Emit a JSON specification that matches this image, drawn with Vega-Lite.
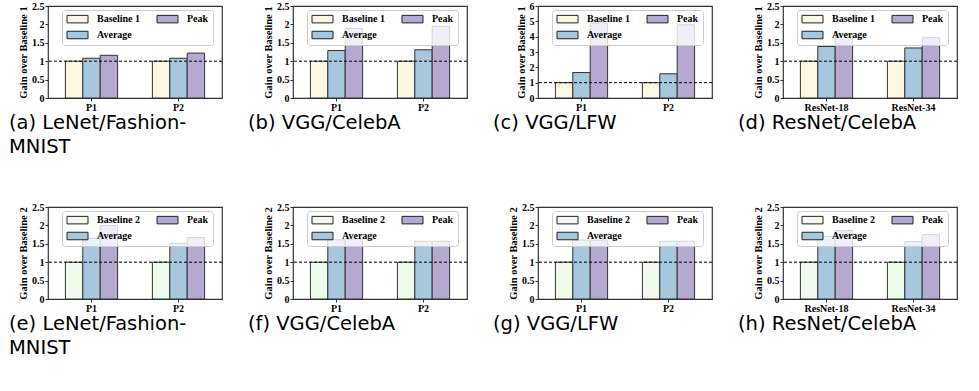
{
  "$schema": "https://vega.github.io/schema/vega-lite/v6.json",
  "background": "white",
  "padding": {"left": 8, "top": 0, "right": 5, "bottom": 5},
  "columns": 4,
  "spacing": {"row": 109, "column": 71},
  "bounds": "flush",
  "resolve": {"scale": {"color": "independent", "xOffset": "independent", "x": "independent", "y": "independent"}, "legend": {"color": "independent"}},
  "datasets": {
    "bars": [
      {"panel": "a", "cat": "P1", "series": "Baseline 1", "value": 1},
      {"panel": "a", "cat": "P1", "series": "Average", "value": 1.08},
      {"panel": "a", "cat": "P1", "series": "Peak", "value": 1.16},
      {"panel": "a", "cat": "P2", "series": "Baseline 1", "value": 1},
      {"panel": "a", "cat": "P2", "series": "Average", "value": 1.08},
      {"panel": "a", "cat": "P2", "series": "Peak", "value": 1.22},
      {"panel": "b", "cat": "P1", "series": "Baseline 1", "value": 1},
      {"panel": "b", "cat": "P1", "series": "Average", "value": 1.29},
      {"panel": "b", "cat": "P1", "series": "Peak", "value": 1.89},
      {"panel": "b", "cat": "P2", "series": "Baseline 1", "value": 1},
      {"panel": "b", "cat": "P2", "series": "Average", "value": 1.31},
      {"panel": "b", "cat": "P2", "series": "Peak", "value": 1.95},
      {"panel": "c", "cat": "P1", "series": "Baseline 1", "value": 1},
      {"panel": "c", "cat": "P1", "series": "Average", "value": 1.66},
      {"panel": "c", "cat": "P1", "series": "Peak", "value": 4.89},
      {"panel": "c", "cat": "P2", "series": "Baseline 1", "value": 1},
      {"panel": "c", "cat": "P2", "series": "Average", "value": 1.58},
      {"panel": "c", "cat": "P2", "series": "Peak", "value": 4.77},
      {"panel": "d", "cat": "ResNet-18", "series": "Baseline 1", "value": 1},
      {"panel": "d", "cat": "ResNet-18", "series": "Average", "value": 1.4},
      {"panel": "d", "cat": "ResNet-18", "series": "Peak", "value": 1.73},
      {"panel": "d", "cat": "ResNet-34", "series": "Baseline 1", "value": 1},
      {"panel": "d", "cat": "ResNet-34", "series": "Average", "value": 1.36},
      {"panel": "d", "cat": "ResNet-34", "series": "Peak", "value": 1.64},
      {"panel": "e", "cat": "P1", "series": "Baseline 2", "value": 1},
      {"panel": "e", "cat": "P1", "series": "Average", "value": 1.65},
      {"panel": "e", "cat": "P1", "series": "Peak", "value": 2.0},
      {"panel": "e", "cat": "P2", "series": "Baseline 2", "value": 1},
      {"panel": "e", "cat": "P2", "series": "Average", "value": 1.51},
      {"panel": "e", "cat": "P2", "series": "Peak", "value": 1.67},
      {"panel": "f", "cat": "P1", "series": "Baseline 2", "value": 1},
      {"panel": "f", "cat": "P1", "series": "Average", "value": 1.61},
      {"panel": "f", "cat": "P1", "series": "Peak", "value": 1.63},
      {"panel": "f", "cat": "P2", "series": "Baseline 2", "value": 1},
      {"panel": "f", "cat": "P2", "series": "Average", "value": 1.57},
      {"panel": "f", "cat": "P2", "series": "Peak", "value": 1.57},
      {"panel": "g", "cat": "P1", "series": "Baseline 2", "value": 1},
      {"panel": "g", "cat": "P1", "series": "Average", "value": 1.6},
      {"panel": "g", "cat": "P1", "series": "Peak", "value": 1.6},
      {"panel": "g", "cat": "P2", "series": "Baseline 2", "value": 1},
      {"panel": "g", "cat": "P2", "series": "Average", "value": 1.57},
      {"panel": "g", "cat": "P2", "series": "Peak", "value": 1.57},
      {"panel": "h", "cat": "ResNet-18", "series": "Baseline 2", "value": 1},
      {"panel": "h", "cat": "ResNet-18", "series": "Average", "value": 1.7},
      {"panel": "h", "cat": "ResNet-18", "series": "Peak", "value": 1.86},
      {"panel": "h", "cat": "ResNet-34", "series": "Baseline 2", "value": 1},
      {"panel": "h", "cat": "ResNet-34", "series": "Average", "value": 1.56},
      {"panel": "h", "cat": "ResNet-34", "series": "Peak", "value": 1.75}
    ],
    "ref": [{"gain": 1}]
  },
  "concat": [
    {
      "title": {"text": ["(a)    LeNet/Fashion-", "MNIST"], "dx": -39},
      "width": 174, "height": 92,
      "layer": [
        {"data": {"name": "bars"}, "transform": [{"filter": "datum.panel == 'a'"}],
         "mark": {"type": "bar", "stroke": "#333", "strokeWidth": 1},
         "encoding": {
          "x": {"field": "cat", "type": "nominal", "title": null, "scale": {"paddingInner": 0.4, "paddingOuter": 0.2}},
          "xOffset": {"field": "series", "type": "nominal", "sort": ["Baseline 1", "Average", "Peak"], "scale": {"padding": 0}},
          "y": {"field": "value", "type": "quantitative", "title": "Gain over Baseline 1", "scale": {"domain": [0, 2.5]}, "axis": {"values": [0, 0.5, 1, 1.5, 2, 2.5], "format": "~g"}},
          "color": {"field": "series", "type": "nominal", "scale": {"domain": ["Baseline 1", "Average", "Peak"], "range": ["#fdf6e3", "#a7c7df", "#b5a8d1"]}}
         }},
        {"data": {"name": "ref"}, "mark": {"type": "rule", "color": "black", "strokeWidth": 1, "strokeDash": [3, 2]},
         "encoding": {"y": {"field": "gain", "type": "quantitative", "title": "Gain over Baseline 1", "scale": {"domain": [0, 2.5]}, "axis": {"values": [0, 0.5, 1, 1.5, 2, 2.5], "format": "~g"}}}}
      ]
    },
    {
      "title": {"text": "(b) VGG/CelebA", "dx": -45},
      "width": 174, "height": 92,
      "layer": [
        {"data": {"name": "bars"}, "transform": [{"filter": "datum.panel == 'b'"}],
         "mark": {"type": "bar", "stroke": "#333", "strokeWidth": 1},
         "encoding": {
          "x": {"field": "cat", "type": "nominal", "title": null, "scale": {"paddingInner": 0.4, "paddingOuter": 0.2}},
          "xOffset": {"field": "series", "type": "nominal", "sort": ["Baseline 1", "Average", "Peak"], "scale": {"padding": 0}},
          "y": {"field": "value", "type": "quantitative", "title": "Gain over Baseline 1", "scale": {"domain": [0, 2.5]}, "axis": {"values": [0, 0.5, 1, 1.5, 2, 2.5], "format": "~g"}},
          "color": {"field": "series", "type": "nominal", "scale": {"domain": ["Baseline 1", "Average", "Peak"], "range": ["#fdf6e3", "#a7c7df", "#b5a8d1"]}}
         }},
        {"data": {"name": "ref"}, "mark": {"type": "rule", "color": "black", "strokeWidth": 1, "strokeDash": [3, 2]},
         "encoding": {"y": {"field": "gain", "type": "quantitative", "title": "Gain over Baseline 1", "scale": {"domain": [0, 2.5]}, "axis": {"values": [0, 0.5, 1, 1.5, 2, 2.5], "format": "~g"}}}}
      ]
    },
    {
      "title": {"text": "(c) VGG/LFW", "dx": -45},
      "width": 174, "height": 92,
      "layer": [
        {"data": {"name": "bars"}, "transform": [{"filter": "datum.panel == 'c'"}],
         "mark": {"type": "bar", "stroke": "#333", "strokeWidth": 1},
         "encoding": {
          "x": {"field": "cat", "type": "nominal", "title": null, "scale": {"paddingInner": 0.4, "paddingOuter": 0.2}},
          "xOffset": {"field": "series", "type": "nominal", "sort": ["Baseline 1", "Average", "Peak"], "scale": {"padding": 0}},
          "y": {"field": "value", "type": "quantitative", "title": "Gain over Baseline 1", "scale": {"domain": [0, 6]}, "axis": {"values": [0, 1, 2, 3, 4, 5, 6], "format": "~g"}},
          "color": {"field": "series", "type": "nominal", "scale": {"domain": ["Baseline 1", "Average", "Peak"], "range": ["#fdf6e3", "#a7c7df", "#b5a8d1"]}}
         }},
        {"data": {"name": "ref"}, "mark": {"type": "rule", "color": "black", "strokeWidth": 1, "strokeDash": [3, 2]},
         "encoding": {"y": {"field": "gain", "type": "quantitative", "title": "Gain over Baseline 1", "scale": {"domain": [0, 6]}, "axis": {"values": [0, 1, 2, 3, 4, 5, 6], "format": "~g"}}}}
      ]
    },
    {
      "title": {"text": "(d) ResNet/CelebA", "dx": -45},
      "width": 174, "height": 92,
      "layer": [
        {"data": {"name": "bars"}, "transform": [{"filter": "datum.panel == 'd'"}],
         "mark": {"type": "bar", "stroke": "#333", "strokeWidth": 1},
         "encoding": {
          "x": {"field": "cat", "type": "nominal", "title": null, "scale": {"paddingInner": 0.4, "paddingOuter": 0.2}},
          "xOffset": {"field": "series", "type": "nominal", "sort": ["Baseline 1", "Average", "Peak"], "scale": {"padding": 0}},
          "y": {"field": "value", "type": "quantitative", "title": "Gain over Baseline 1", "scale": {"domain": [0, 2.5]}, "axis": {"values": [0, 0.5, 1, 1.5, 2, 2.5], "format": "~g"}},
          "color": {"field": "series", "type": "nominal", "scale": {"domain": ["Baseline 1", "Average", "Peak"], "range": ["#fdf6e3", "#a7c7df", "#b5a8d1"]}}
         }},
        {"data": {"name": "ref"}, "mark": {"type": "rule", "color": "black", "strokeWidth": 1, "strokeDash": [3, 2]},
         "encoding": {"y": {"field": "gain", "type": "quantitative", "title": "Gain over Baseline 1", "scale": {"domain": [0, 2.5]}, "axis": {"values": [0, 0.5, 1, 1.5, 2, 2.5], "format": "~g"}}}}
      ]
    },
    {
      "title": {"text": ["(e)    LeNet/Fashion-", "MNIST"], "dx": -39},
      "width": 174, "height": 92,
      "layer": [
        {"data": {"name": "bars"}, "transform": [{"filter": "datum.panel == 'e'"}],
         "mark": {"type": "bar", "stroke": "#333", "strokeWidth": 1},
         "encoding": {
          "x": {"field": "cat", "type": "nominal", "title": null, "scale": {"paddingInner": 0.4, "paddingOuter": 0.2}},
          "xOffset": {"field": "series", "type": "nominal", "sort": ["Baseline 2", "Average", "Peak"], "scale": {"padding": 0}},
          "y": {"field": "value", "type": "quantitative", "title": "Gain over Baseline 2", "scale": {"domain": [0, 2.5]}, "axis": {"values": [0, 0.5, 1, 1.5, 2, 2.5], "format": "~g"}},
          "color": {"field": "series", "type": "nominal", "scale": {"domain": ["Baseline 2", "Average", "Peak"], "range": ["#effbea", "#a7c7df", "#b5a8d1"]}}
         }},
        {"data": {"name": "ref"}, "mark": {"type": "rule", "color": "black", "strokeWidth": 1, "strokeDash": [3, 2]},
         "encoding": {"y": {"field": "gain", "type": "quantitative", "title": "Gain over Baseline 2", "scale": {"domain": [0, 2.5]}, "axis": {"values": [0, 0.5, 1, 1.5, 2, 2.5], "format": "~g"}}}}
      ]
    },
    {
      "title": {"text": "(f) VGG/CelebA", "dx": -45},
      "width": 174, "height": 92,
      "layer": [
        {"data": {"name": "bars"}, "transform": [{"filter": "datum.panel == 'f'"}],
         "mark": {"type": "bar", "stroke": "#333", "strokeWidth": 1},
         "encoding": {
          "x": {"field": "cat", "type": "nominal", "title": null, "scale": {"paddingInner": 0.4, "paddingOuter": 0.2}},
          "xOffset": {"field": "series", "type": "nominal", "sort": ["Baseline 2", "Average", "Peak"], "scale": {"padding": 0}},
          "y": {"field": "value", "type": "quantitative", "title": "Gain over Baseline 2", "scale": {"domain": [0, 2.5]}, "axis": {"values": [0, 0.5, 1, 1.5, 2, 2.5], "format": "~g"}},
          "color": {"field": "series", "type": "nominal", "scale": {"domain": ["Baseline 2", "Average", "Peak"], "range": ["#effbea", "#a7c7df", "#b5a8d1"]}}
         }},
        {"data": {"name": "ref"}, "mark": {"type": "rule", "color": "black", "strokeWidth": 1, "strokeDash": [3, 2]},
         "encoding": {"y": {"field": "gain", "type": "quantitative", "title": "Gain over Baseline 2", "scale": {"domain": [0, 2.5]}, "axis": {"values": [0, 0.5, 1, 1.5, 2, 2.5], "format": "~g"}}}}
      ]
    },
    {
      "title": {"text": "(g) VGG/LFW", "dx": -45},
      "width": 174, "height": 92,
      "layer": [
        {"data": {"name": "bars"}, "transform": [{"filter": "datum.panel == 'g'"}],
         "mark": {"type": "bar", "stroke": "#333", "strokeWidth": 1},
         "encoding": {
          "x": {"field": "cat", "type": "nominal", "title": null, "scale": {"paddingInner": 0.4, "paddingOuter": 0.2}},
          "xOffset": {"field": "series", "type": "nominal", "sort": ["Baseline 2", "Average", "Peak"], "scale": {"padding": 0}},
          "y": {"field": "value", "type": "quantitative", "title": "Gain over Baseline 2", "scale": {"domain": [0, 2.5]}, "axis": {"values": [0, 0.5, 1, 1.5, 2, 2.5], "format": "~g"}},
          "color": {"field": "series", "type": "nominal", "scale": {"domain": ["Baseline 2", "Average", "Peak"], "range": ["#effbea", "#a7c7df", "#b5a8d1"]}}
         }},
        {"data": {"name": "ref"}, "mark": {"type": "rule", "color": "black", "strokeWidth": 1, "strokeDash": [3, 2]},
         "encoding": {"y": {"field": "gain", "type": "quantitative", "title": "Gain over Baseline 2", "scale": {"domain": [0, 2.5]}, "axis": {"values": [0, 0.5, 1, 1.5, 2, 2.5], "format": "~g"}}}}
      ]
    },
    {
      "title": {"text": "(h) ResNet/CelebA", "dx": -45},
      "width": 174, "height": 92,
      "layer": [
        {"data": {"name": "bars"}, "transform": [{"filter": "datum.panel == 'h'"}],
         "mark": {"type": "bar", "stroke": "#333", "strokeWidth": 1},
         "encoding": {
          "x": {"field": "cat", "type": "nominal", "title": null, "scale": {"paddingInner": 0.4, "paddingOuter": 0.2}},
          "xOffset": {"field": "series", "type": "nominal", "sort": ["Baseline 2", "Average", "Peak"], "scale": {"padding": 0}},
          "y": {"field": "value", "type": "quantitative", "title": "Gain over Baseline 2", "scale": {"domain": [0, 2.5]}, "axis": {"values": [0, 0.5, 1, 1.5, 2, 2.5], "format": "~g"}},
          "color": {"field": "series", "type": "nominal", "scale": {"domain": ["Baseline 2", "Average", "Peak"], "range": ["#effbea", "#a7c7df", "#b5a8d1"]}}
         }},
        {"data": {"name": "ref"}, "mark": {"type": "rule", "color": "black", "strokeWidth": 1, "strokeDash": [3, 2]},
         "encoding": {"y": {"field": "gain", "type": "quantitative", "title": "Gain over Baseline 2", "scale": {"domain": [0, 2.5]}, "axis": {"values": [0, 0.5, 1, 1.5, 2, 2.5], "format": "~g"}}}}
      ]
    }
  ],
  "config": {
    "view": {"stroke": "#333", "strokeWidth": 1.2},
    "axis": {"grid": false, "domain": false, "ticks": true, "tickColor": "#333", "tickSize": 3, "labelFont": "Liberation Serif", "labelFontWeight": "bold", "labelFontSize": 10, "labelColor": "black", "labelPadding": 1, "labelOverlap": false, "titleFont": "Liberation Serif", "titleFontWeight": "bold", "titleFontSize": 10.5, "titleColor": "black", "titlePadding": 3},
    "axisX": {"labelAngle": 0},
    "title": {"orient": "bottom", "anchor": "start", "frame": "group", "font": "DejaVu Sans", "fontSize": 19.5, "fontWeight": "normal", "color": "black", "offset": 2, "lineHeight": 24},
    "legend": {
      "orient": "none", "legendX": 14, "legendY": 4, "title": null, "columns": 2, "columnPadding": 14, "rowPadding": 4, "padding": 4,
      "fillColor": "rgba(255,255,255,0.8)", "strokeColor": "#cccccc", "cornerRadius": 3,
      "symbolType": "M-1,-0.94L4.25,-0.94L4.25,0.94L-1,0.94Z", "symbolSize": 64, "symbolStrokeColor": "#222", "symbolStrokeWidth": 1, "symbolOpacity": 1,
      "labelFont": "Liberation Serif", "labelFontWeight": "bold", "labelFontSize": 10, "labelColor": "black", "labelOffset": 21
    }
  }
}
